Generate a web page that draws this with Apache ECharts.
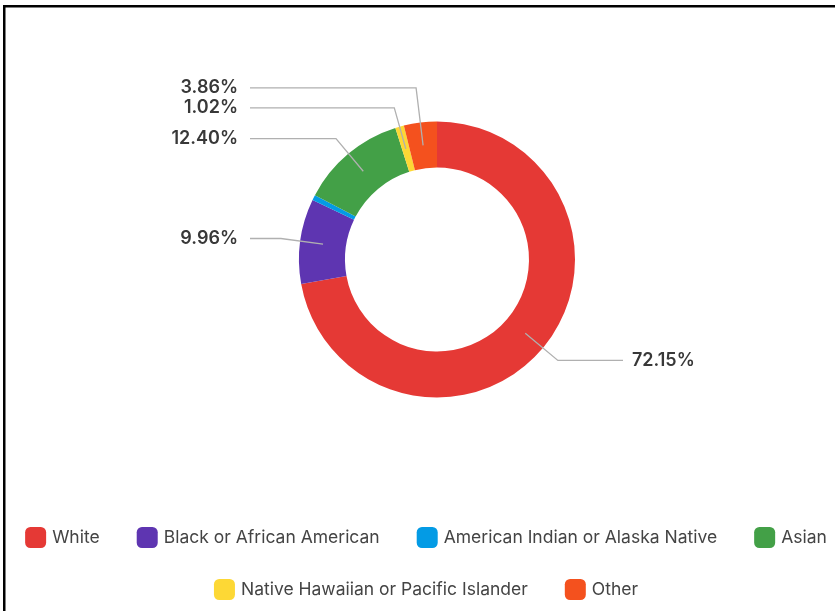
<!DOCTYPE html>
<html>
<head>
<meta charset="utf-8">
<script src="https://cdn.jsdelivr.net/npm/echarts@6/dist/echarts.min.js"></script>
<style>
  html, body { margin: 0; padding: 0; background: #fff; overflow: hidden; }
  #chart { position: absolute; left: 0; top: 0; width: 852px; height: 611px; }
</style>
</head>
<body>
<div id="chart"></div>
<script>
// Population share by race (%)
const categories = [
  'White',
  'Black or African American',
  'American Indian or Alaska Native',
  'Asian',
  'Native Hawaiian or Pacific Islander',
  'Other'
];
const shares = [72.15, 9.96, 0.61, 12.40, 1.02, 3.86];
const palette = ['#E53935', '#5E35B1', '#039BE5', '#43A047', '#FDD835', '#F4511E'];
const legendRowOne = categories.slice(0, 4);
const legendRowTwo = categories.slice(4);

// Shares below this are left unlabelled
const LABEL_MIN = 1;

const chart = echarts.init(document.getElementById('chart'), null, { renderer: 'canvas' });

const CX = 437, CY = 259.5;
const OUTER = 138, INNER = 92, LINE_START = 115;
const LABEL_GAP = 20;

const ringData = categories.map((name, i) => ({ name, value: shares[i] }));
const labelData = categories.map((name, i) => ({
  name,
  value: shares[i],
  label: { show: shares[i] >= LABEL_MIN },
  labelLine: { show: shares[i] >= LABEL_MIN }
}));

// Left-side labels are visited bottom to top; a label that would collide
// with the one below it slides outward along its own radial leader line.
let lastLeftY = Infinity;
function placeLabel(params) {
  if (params.dataIndex === 0) lastLeftY = Infinity;
  const pts = params.labelLinePoints;
  if (!pts || pts.length < 3) return {};
  const p0 = pts[0];
  let p1 = pts[1];
  const onLeft = p1[0] < CX;
  let y = p1[1];
  if (onLeft) {
    y = Math.min(y, lastLeftY - LABEL_GAP);
    if (y !== p1[1]) {
      const t = (y - p0[1]) / (p1[1] - p0[1]);
      p1 = [p0[0] + t * (p1[0] - p0[0]), y];
    }
    lastLeftY = y;
  }
  const endX = onLeft ? CX - 187 : CX + 186;
  return {
    x: onLeft ? endX - 12 : endX + 9,
    y: y,
    align: onLeft ? 'right' : 'left',
    verticalAlign: 'middle',
    labelLinePoints: [p0, p1, [endX, y]]
  };
}

const legendBase = {
  left: 'center',
  orient: 'horizontal',
  icon: 'roundRect',
  itemWidth: 21,
  itemHeight: 21,
  itemGap: 37,
  selectedMode: false,
  textStyle: { fontFamily: 'Inter', fontSize: 17.5, color: '#444', padding: [0, 0, 0, 1] }
};

chart.setOption({
  animation: false,
  color: palette,
  graphic: [{
    type: 'rect',
    shape: { x: 4.25, y: 6.25, width: 1000, height: 1000 },
    style: { fill: 'none', stroke: '#000', lineWidth: 2.5 },
    silent: true
  }],
  legend: [
    Object.assign({}, legendBase, { top: 522, data: legendRowOne }),
    Object.assign({}, legendBase, { top: 574, data: legendRowTwo })
  ],
  series: [
    {
      name: 'ring',
      type: 'pie',
      z: 2,
      center: [CX, CY],
      radius: [INNER, OUTER],
      startAngle: 90,
      clockwise: true,
      avoidLabelOverlap: false,
      silent: true,
      itemStyle: { borderWidth: 0 },
      label: { show: false },
      labelLine: { show: false },
      data: ringData
    },
    {
      name: 'labels',
      type: 'pie',
      z: 5,
      center: [CX, CY],
      radius: [LINE_START - 1, LINE_START],
      startAngle: 90,
      clockwise: true,
      avoidLabelOverlap: false,
      silent: true,
      legendHoverLink: false,
      itemStyle: { color: 'rgba(0,0,0,0)', borderWidth: 0 },
      label: {
        show: true,
        position: 'outside',
        formatter: p => p.value.toFixed(2) + '%',
        fontFamily: 'Inter',
        fontSize: 18,
        fontWeight: 600,
        color: '#383838'
      },
      labelLine: {
        show: true,
        length: 42.5,
        length2: 10,
        smooth: false,
        lineStyle: { color: '#b0b0b0', width: 1.3 }
      },
      labelLayout: placeLabel,
      data: labelData
    }
  ]
});
</script>
</body>
</html>
